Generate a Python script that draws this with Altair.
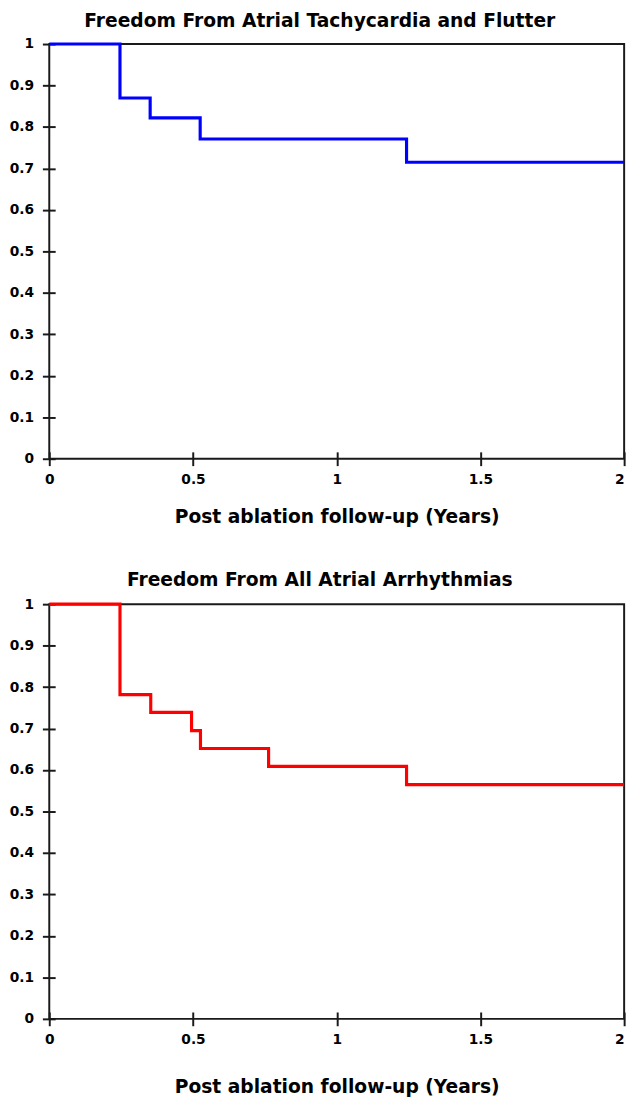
import altair as alt
import pandas as pd

# Kaplan-Meier style step data
top_years = [0.0, 0.246, 0.351, 0.525, 1.243, 2.0]
top_free = [1.0, 0.870, 0.822, 0.771, 0.715, 0.715]

bot_years = [0.0, 0.246, 0.353, 0.495, 0.526, 0.763, 1.243, 2.0]
bot_free = [1.0, 0.782, 0.739, 0.695, 0.652, 0.609, 0.565, 0.565]

x_ticks = [0, 0.5, 1, 1.5, 2]
y_ticks = [0, 0.1, 0.2, 0.3, 0.4, 0.5, 0.6, 0.7, 0.8, 0.9, 1]

titles = ["Freedom From Atrial Tachycardia and Flutter",
          "Freedom From All Atrial Arrhythmias"]
x_label = "Post ablation follow-up (Years)"
colors = ["#0000FF", "#FF0000"]

FONT = "DejaVu Sans"
INK = "#1a1a1a"


def panel(years, free, title, color, title_pad, title_off):
    df = pd.DataFrame({"t": years, "s": free})
    return alt.Chart(df).mark_line(
        interpolate="step-after", color=color, strokeWidth=3.2
    ).encode(
        x=alt.X("t:Q",
                scale=alt.Scale(domain=[0, 2], nice=False, zero=False),
                axis=alt.Axis(values=x_ticks, format="~g", title=x_label,
                              domain=False, grid=False, offset=-7,
                              tickSize=14, tickWidth=2, tickColor=INK,
                              labelPadding=7, labelFont=FONT, labelFontSize=14,
                              labelFontWeight="bold", labelColor="black",
                              labelAlign=alt.condition("datum.value == 2",
                                                       alt.value("right"),
                                                       alt.value("center")),
                              titleFont=FONT, titleFontSize=19,
                              titleFontWeight="bold", titleColor="black",
                              titlePadding=title_pad)),
        y=alt.Y("s:Q",
                scale=alt.Scale(domain=[0, 1], nice=False, zero=False),
                axis=alt.Axis(values=y_ticks, format="~g", title=None,
                              domain=False, grid=False, offset=-6,
                              tickSize=13, tickWidth=2, tickColor=INK,
                              labelPadding=9, labelFont=FONT, labelFontSize=14,
                              labelFontWeight="bold", labelColor="black")),
    ).properties(
        width=585, height=422,
        title=alt.TitleParams(title, anchor="middle", frame="bounds",
                              font=FONT, fontSize=19, fontWeight="bold",
                              color="black", offset=title_off),
    )


top = panel(top_years, top_free, titles[0], colors[0], 22, 6)
bottom = panel(bot_years, bot_free, titles[1], colors[1], 32, 7)

chart = alt.vconcat(top, bottom, spacing=44).properties(
    padding={"left": 0, "right": 0, "top": -6, "bottom": 0}
).configure(
    background="white"
).configure_view(stroke=INK, strokeWidth=2)

chart.save("out.html", embed_options={"renderer": "svg", "actions": False})
